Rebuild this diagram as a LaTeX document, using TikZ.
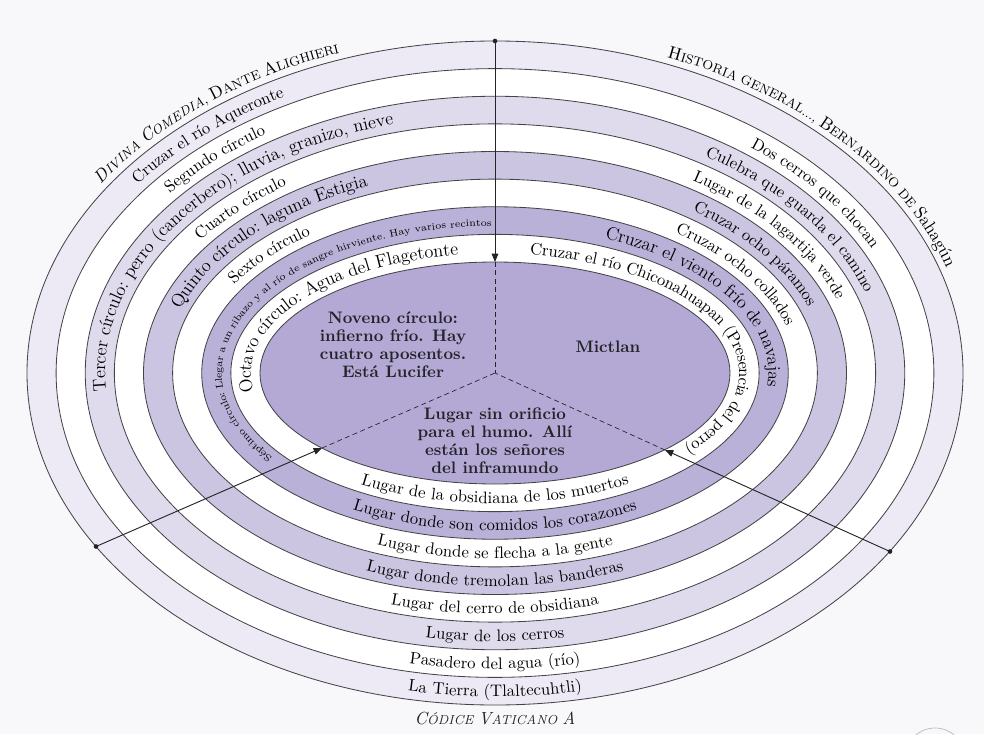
\documentclass[tikz,border=0pt]{standalone}
\usepackage{tikz}
\usetikzlibrary{arrows.meta,decorations.text}

\definecolor{lila}{RGB}{140,125,190}
\definecolor{paper}{RGB}{248,247,249}
\definecolor{ink}{RGB}{35,35,40}

\newcommand\bandfont{\fontsize{10}{12}\selectfont}
\newcommand\bigband{\fontsize{11}{13}\selectfont}
\newcommand\tinyband{\fontsize{6}{7}\selectfont}
\newcommand\capL{\fontsize{10.5}{12}\selectfont}
\newcommand\capS{\fontsize{7.8}{10}\selectfont}

\tikzset{
  ring/.style={draw=ink!85, line width=0.5pt},
  bandlabel/.style={decorate, decoration={text along path, text align=center, raise=-3.3pt}},
  titlelabel/.style={decorate, decoration={text along path, text align=center, raise=1pt}},
  innertext/.style={font=\bfseries\fontsize{10}{10.8}\selectfont, align=center, text=ink},
  pointer/.style={-{Triangle[length=5pt,width=4pt]}, line width=0.55pt, draw=ink},
  guide/.style={densely dashed, line width=0.4pt, draw=ink},
}
\newcommand\bandtext[5]{\path[bandlabel, decoration={text={#5}}] (#3:#1 and #2) arc[start angle=#3, end angle=#4, x radius=#1, y radius=#2];}

\begin{document}
\begin{tikzpicture}[x=0.6pt,y=0.6pt]
\useasboundingbox (-495,-361) rectangle (489,373);
\fill[paper] (-495,-361) rectangle (489,373);
\draw[gray!55, line width=0.4pt] (440,-385) circle[radius=30];

\foreach \i/\tone in {0/lila!16,1/white,2/lila!28,3/white,4/lila!45,5/white,6/lila!60,7/white,8/lila!66}{
  \pgfmathsetmacro\ra{468-29.125*\i}
  \pgfmathsetmacro\rb{332-27.625*\i}
  \filldraw[ring, fill=\tone] (0,0) ellipse[x radius=\ra, y radius=\rb];
}

\coordinate (ctr) at (0,0);
\coordinate (topOut) at (0,332);
\coordinate (topIn) at (0,111);
\coordinate (leftOut) at (-399,-173.5);
\coordinate (leftIn) at (-173,-75);
\coordinate (rightOut) at (395,-178.5);
\coordinate (rightIn) at (170,-77);

\draw[guide] (topIn) -- (ctr);
\draw[guide] (leftIn) -- (ctr);
\draw[guide] (rightIn) -- (ctr);
\draw[pointer] (topOut) -- (topIn);
\draw[pointer] (leftOut) -- (leftIn);
\draw[pointer] (rightOut) -- (rightIn);
\foreach \p in {topOut,leftOut,rightOut}
  \fill[ink] (\p) circle[radius=1.4pt];

\path[titlelabel, decoration={text={|\itshape\capL|D|\itshape\capS|IVINA |\itshape\capL|C|\itshape\capS|OMEDIA|\capS|, |\capL|D|\capS|ANTE |\capL|A|\capS|LIGHIERI}}]
  (150:473 and 337) arc[start angle=150, end angle=106, x radius=473, y radius=337];
\path[titlelabel, decoration={text={|\capL|H|\capS|ISTORIA GENERAL..., |\capL|B|\capS|ERNARDINO DE |\capL|Sahagún}}]
  (71:473 and 337) arc[start angle=71, end angle=15, x radius=473, y radius=337];

\bandtext{453.4}{318.2}{145}{116}{|\bandfont|Cruzar el río Aqueronte}
\bandtext{424.3}{290.6}{143}{121}{|\bandfont|Segundo círculo}
\bandtext{395.2}{262.9}{190}{101}{|\bigband|Tercer círculo: perro (cancerbero); lluvia, granizo, nieve}
\bandtext{366.1}{235.3}{147}{123}{|\bandfont|Cuarto círculo}
\bandtext{336.9}{207.7}{162}{112}{|\bigband|Quinto círculo: laguna Estigia}
\bandtext{307.8}{180.1}{152}{125}{|\bandfont|Sexto círculo}
\bandtext{278.7}{152.4}{222}{86}{|\tinyband|Séptimo círculo: Llegar a un ribazo y al río de sangre hirviente. Hay varios recintos}
\bandtext{249.6}{124.8}{190}{98}{|\bigband|Octavo círculo: Agua del Flagetonte}

\bandtext{424.3}{290.6}{55}{23}{|\bandfont|Dos cerros que chocan}
\bandtext{395.2}{262.9}{60}{15}{|\bandfont|Culebra que guarda el camino}
\bandtext{366.1}{235.3}{59}{16}{|\bandfont|Lugar de la lagartija verde}
\bandtext{336.9}{207.7}{56}{16}{|\bandfont|Cruzar ocho páramos}
\bandtext{307.8}{180.1}{57}{11}{|\bandfont|Cruzar ocho collados}
\bandtext{278.7}{152.4}{68}{-8}{|\bigband|Cruzar el viento frío de navajas}
\bandtext{249.6}{124.8}{83}{-41}{|\bandfont|Cruzar el río Chiconahuapan (Presencia del perro)}

\bandtext{249.6}{124.8}{215}{325}{|\bandfont|Lugar de la obsidiana de los muertos}
\bandtext{278.7}{152.4}{215}{325}{|\bandfont|Lugar donde son comidos los corazones}
\bandtext{307.8}{180.1}{215}{325}{|\bandfont|Lugar donde se flecha a la gente}
\bandtext{336.9}{207.7}{215}{325}{|\bandfont|Lugar donde tremolan las banderas}
\bandtext{366.1}{235.3}{215}{325}{|\bandfont|Lugar del cerro de obsidiana}
\bandtext{395.2}{262.9}{215}{325}{|\bandfont|Lugar de los cerros}
\bandtext{424.3}{290.6}{215}{325}{|\bandfont|Pasadero del agua (río)}
\bandtext{453.4}{318.2}{215}{325}{|\bandfont|La Tierra (Tlaltecuhtli)}

\node[innertext] (noveno) at (-102,28) {Noveno círculo:\\infierno frío. Hay\\cuatro aposentos.\\Está Lucifer};
\node[innertext] (mictlan) at (113,26) {Mictlan};
\node[innertext] (sinhumo) at (0,-68) {Lugar sin orificio\\para el humo. Allí\\están los señores\\del inframundo};
\node[text=ink, inner sep=0pt] (codice) at (0,-345) {\itshape\capL C\capS ÓDICE \capL V\capS ATICANO \capL A};
\end{tikzpicture}
\end{document}
